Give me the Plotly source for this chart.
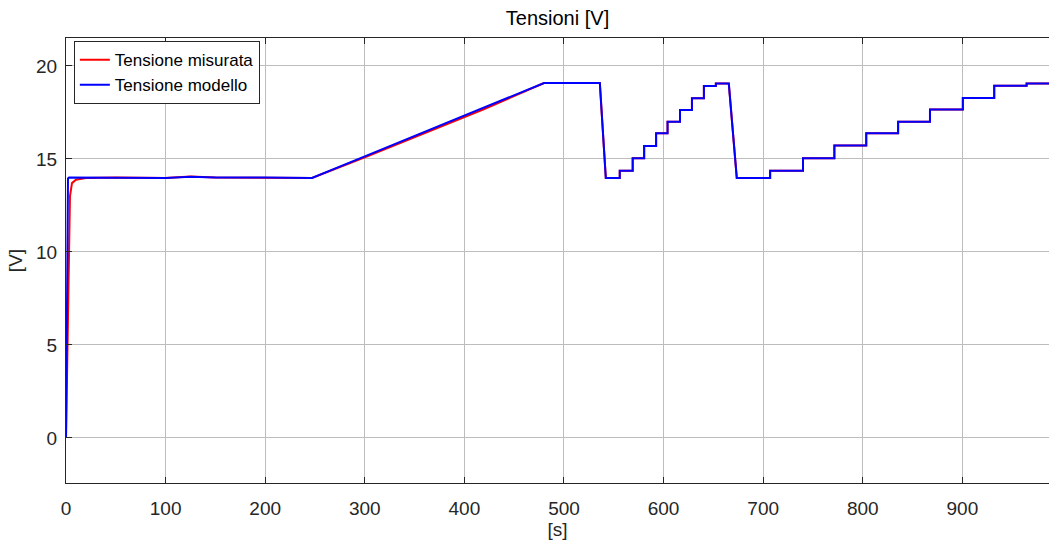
import plotly.graph_objects as go

# ---- data ----
# start-up transient and flat section
model_head_t = [0, 2.0, 3, 50, 100, 125, 150, 200, 247]
model_head_v = [0, 13.95, 14.0, 14.0, 13.98, 14.04, 14.0, 14.0, 13.98]
meas_head_t = [0, 2.5, 4, 6, 10, 20, 50, 100, 125, 150, 200, 247]
meas_head_v = [0, 9.0, 13.0, 13.7, 13.88, 13.97, 14.0, 13.98, 14.05, 14.0, 14.0, 13.98]

# ramp
model_ramp_t = [300, 360, 420, 480]
model_ramp_v = [15.14, 16.45, 17.76, 19.08]
meas_ramp_t = [300, 360, 420, 480]
meas_ramp_v = [15.08, 16.37, 17.68, 19.08]

# plateau and first drop
plateau1_end = 536
drop1_end = 542
low_level = 13.98

# first staircase
stairs1_t = [556, 569, 580.5, 592.5, 604, 616.5, 628.5, 640.5, 652.5]
stairs1_v = [14.37, 15.04, 15.70, 16.38, 17.0, 17.63, 18.26, 18.92, 19.05]
drop2_start = 665.5
drop2_end = 673.5

# second staircase
stairs2_t = [707, 740, 771.5, 803.5, 835.5, 867.5, 900.5, 932, 964.5]
stairs2_v = [14.37, 15.04, 15.72, 16.38, 17.0, 17.65, 18.28, 18.94, 19.05]
t_end = 990

x_ticks = [0, 100, 200, 300, 400, 500, 600, 700, 800, 900]
y_ticks = [0, 5, 10, 15, 20]


def build(head_t, head_v, ramp_t, ramp_v):
    t = list(head_t) + list(ramp_t)
    v = list(head_v) + list(ramp_v)
    top = ramp_v[-1]
    t += [plateau1_end, drop1_end]
    v += [top, low_level]
    prev = low_level
    for ts, lv in zip(stairs1_t, stairs1_v):
        t += [ts, ts]
        v += [prev, lv]
        prev = lv
    t += [drop2_start, drop2_end]
    v += [prev, low_level]
    prev = low_level
    for ts, lv in zip(stairs2_t, stairs2_v):
        t += [ts, ts]
        v += [prev, lv]
        prev = lv
    t.append(t_end)
    v.append(prev)
    return t, v


meas_t, meas_v = build(meas_head_t, meas_head_v, meas_ramp_t, meas_ramp_v)
model_t, model_v = build(model_head_t, model_head_v, model_ramp_t, model_ramp_v)

fig = go.Figure()
fig.add_trace(go.Scatter(x=meas_t, y=meas_v, mode="lines", name="Tensione misurata",
                         line=dict(color="#ff0000", width=2)))
fig.add_trace(go.Scatter(x=model_t, y=model_v, mode="lines", name="Tensione modello",
                         line=dict(color="#0000ff", width=2)))

axis_font = dict(family="Liberation Sans, Arial, sans-serif", size=19, color="#262626")

fig.update_layout(
    width=1049, height=548,
    margin=dict(l=66, r=0, t=38, b=65),
    paper_bgcolor="white", plot_bgcolor="white",
    font=dict(family="Liberation Sans, Arial, sans-serif", color="#262626"),
    title=dict(text="Tensioni [V]", x=0.5, xanchor="center", xref="paper",
               y=0.967, yanchor="middle", font=dict(size=20, color="#000000")),
    showlegend=True,
    legend=dict(x=0.008, y=0.993, xanchor="left", yanchor="top",
                bgcolor="white", bordercolor="#262626", borderwidth=1,
                font=dict(size=17, color="#000000"), tracegroupgap=0,
                itemwidth=30),
)

fig.update_xaxes(
    range=[0, 987], tickvals=x_ticks, ticktext=[str(v) for v in x_ticks],
    showgrid=True, gridcolor="#bdbdbd", gridwidth=1,
    showline=True, linecolor="#262626", linewidth=1, mirror="ticks",
    ticks="inside", ticklen=6, tickcolor="#262626",
    tickfont=axis_font, zeroline=False, ticklabelstandoff=8,
    title=dict(text="[s]", font=dict(size=19, color="#262626"), standoff=4),
)
fig.update_yaxes(
    range=[-2.42, 21.5], tickvals=y_ticks, ticktext=[str(v) for v in y_ticks],
    showgrid=True, gridcolor="#bdbdbd", gridwidth=1,
    showline=True, linecolor="#262626", linewidth=1, mirror=False,
    ticks="inside", ticklen=6, tickcolor="#262626",
    tickfont=axis_font, zeroline=False, ticklabelstandoff=4,
    title=dict(text="[V]", font=dict(size=19, color="#262626"), standoff=8),
)

fig.write_html("out.html")
